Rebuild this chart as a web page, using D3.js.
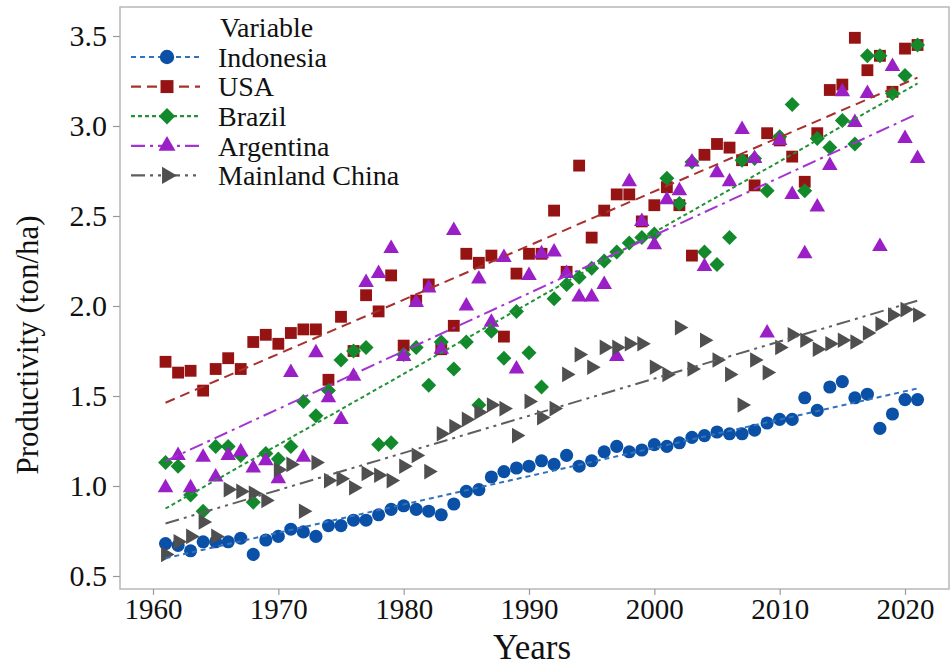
<!DOCTYPE html>
<html>
<head>
<meta charset="utf-8">
<script src="https://cdn.jsdelivr.net/npm/d3@7"></script>
<style>
  body { margin: 0; background: #fff; }
</style>
</head>
<body>
<div id="chart"></div>
<script>

// years 1961..2021
var years = d3.range(1961, 2022);

var indonesia = [0.68, 0.67, 0.64, 0.69, 0.69, 0.69, 0.71, 0.62, 0.70, 0.72,
  0.76, 0.745, 0.72, 0.78, 0.78, 0.81, 0.81, 0.84, 0.87, 0.89,
  0.87, 0.86, 0.84, 0.90, 0.97, 0.98, 1.05, 1.08, 1.10, 1.11,
  1.14, 1.12, 1.17, 1.11, 1.14, 1.19, 1.22, 1.19, 1.20, 1.23,
  1.22, 1.24, 1.27, 1.28, 1.30, 1.29, 1.29, 1.31, 1.35, 1.37,
  1.37, 1.49, 1.42, 1.55, 1.58, 1.49, 1.51, 1.32, 1.40, 1.48, 1.48];

var usa = [1.69, 1.63, 1.64, 1.53, 1.65, 1.71, 1.65, 1.80, 1.84, 1.79,
  1.85, 1.87, 1.87, 1.59, 1.94, 1.75, 2.06, 1.97, 2.17, 1.78,
  2.03, 2.12, 1.76, 1.89, 2.29, 2.24, 2.28, 1.83, 2.18, 2.29,
  2.29, 2.53, 2.19, 2.78, 2.38, 2.53, 2.62, 2.62, 2.47, 2.56,
  2.66, 2.56, 2.28, 2.84, 2.90, 2.88, 2.81, 2.67, 2.96, 2.92,
  2.83, 2.69, 2.96, 3.20, 3.23, 3.49, 3.31, 3.39, 3.19, 3.43, 3.45];

var brazil = [1.13, 1.11, 0.95, 0.86, 1.22, 1.22, 1.17, 0.91, 1.18, 1.15,
  1.22, 1.47, 1.39, 1.53, 1.70, 1.75, 1.77, 1.23, 1.24, 1.73,
  1.77, 1.56, 1.80, 1.65, 1.80, 1.45, 1.86, 1.71, 1.97, 1.74,
  1.55, 2.04, 2.12, 2.16, 2.21, 2.25, 2.30, 2.35, 2.38, 2.40,
  2.71, 2.57, 2.80, 2.30, 2.23, 2.38, 2.81, 2.82, 2.64, 2.94,
  3.12, 2.64, 2.93, 2.88, 3.03, 2.90, 3.39, 3.39, 3.18, 3.28, 3.45];

var argentina = [0.99, 1.17, 0.99, 1.16, 1.05, 1.17, 1.19, 1.10, 1.14, 1.04,
  1.63, 1.16, 1.74, 1.49, 1.37, 1.61, 2.13, 2.18, 2.32, 1.72,
  2.02, 2.10, 1.76, 2.42, 2.00, 2.15, 1.91, 2.27, 1.65, 2.17,
  2.29, 2.30, 2.18, 2.05, 2.05, 2.12, 1.72, 2.69, 2.47, 2.34,
  2.59, 2.64, 2.80, 2.22, 2.74, 2.69, 2.98, 2.82, 1.85, 2.92,
  2.62, 2.29, 2.55, 2.78, 3.19, 3.02, 3.18, 2.33, 3.33, 2.93, 2.82];

var china = [0.62, 0.69, 0.72, 0.80, 0.72, 0.98, 0.97, 0.96, 0.92, 1.09,
  1.12, 0.86, 1.13, 1.03, 1.04, 0.99, 1.07, 1.06, 1.03, 1.11,
  1.17, 1.08, 1.29, 1.33, 1.37, 1.41, 1.45, 1.43, 1.28, 1.47,
  1.38, 1.43, 1.62, 1.73, 1.66, 1.77, 1.77, 1.79, 1.79, 1.66,
  1.62, 1.88, 1.65, 1.81, 1.70, 1.62, 1.45, 1.70, 1.63, 1.77,
  1.84, 1.81, 1.76, 1.79, 1.81, 1.80, 1.85, 1.90, 1.95, 1.98, 1.95];

var seriesNames = ["Indonesia", "USA", "Brazil", "Argentina", "Mainland China"];
var xTicks = [1960, 1970, 1980, 1990, 2000, 2010, 2020];
var yTicks = [0.5, 1.0, 1.5, 2.0, 2.5, 3.0, 3.5];

var styles = [
  { values: indonesia, marker: "#0a50a6", line: "#3272bd", shape: "circle", dash: "5,4" },
  { values: usa, marker: "#961313", line: "#a8302e", shape: "square", dash: "10,6" },
  { values: brazil, marker: "#128a2c", line: "#229236", shape: "diamond", dash: "4,3" },
  { values: argentina, marker: "#9a1fc6", line: "#a235cf", shape: "triangle", dash: "14,5,3,5" },
  { values: china, marker: "#4f4f4f", line: "#5e5e5e", shape: "right", dash: "14,5,3,5,3,5" }
];

var serif = "'Liberation Serif', 'Times New Roman', Tinos, 'DejaVu Serif', serif";

var width = 950, height = 667;
var frame = { left: 120, right: 949, top: 7, bottom: 589 };

var svg = d3.select("#chart").append("svg")
  .attr("width", width)
  .attr("height", height);

var xScale = d3.scaleLinear().domain([1960, 2020]).range([153, 905]);
var yScale = d3.scaleLinear().domain([0.5, 3.5]).range([576, 36]);

function symbolPath(shape, big) {
  var k = big ? 1.2 : 1;
  if (shape == "circle") return d3.symbol(d3.symbolCircle, 135 * k)();
  if (shape == "square") return d3.symbol(d3.symbolSquare, 140 * k)();
  if (shape == "diamond") return d3.symbol(d3.symbolSquare, 112 * k)();
  return d3.symbol(d3.symbolTriangle, 105 * k)();
}
function symbolRotate(shape) {
  if (shape == "diamond") return 45;
  if (shape == "right") return 90;
  return 0;
}

// frame
svg.append("rect")
  .attr("x", frame.left).attr("y", frame.top)
  .attr("width", frame.right - frame.left)
  .attr("height", frame.bottom - frame.top)
  .attr("fill", "none").attr("stroke", "#b8b8b8").attr("stroke-width", 1.5);

// axes
var yAxis = d3.axisLeft(yScale).tickValues(yTicks).tickFormat(d3.format(".1f")).tickSize(7).tickPadding(6);
var xAxis = d3.axisBottom(xScale).tickValues(xTicks).tickFormat(d3.format("d")).tickSize(6).tickPadding(3);

var gy = svg.append("g").attr("transform", "translate(" + frame.left + ",0)").call(yAxis);
var gx = svg.append("g").attr("transform", "translate(0," + frame.bottom + ")").call(xAxis);
gy.attr("font-family", serif).attr("font-size", 30);
gx.attr("font-family", serif).attr("font-size", 29);
[gx, gy].forEach(function (g) {
  g.select(".domain").remove();
  g.selectAll(".tick line").attr("stroke", "#9a9a9a").attr("stroke-width", 1.2);
  g.selectAll(".tick text").attr("fill", "#111");
});

// points
styles.forEach(function (s) {
  svg.append("g").selectAll("path")
    .data(years.map(function (y, i) { return [y, s.values[i]]; }))
    .enter().append("path")
    .attr("d", symbolPath(s.shape))
    .attr("fill", s.marker)
    .attr("transform", function (d) {
      return "translate(" + xScale(d[0]) + "," + yScale(d[1]) + ") rotate(" + symbolRotate(s.shape) + ")";
    });
});

// linear trend lines
function fit(values) {
  var mx = d3.mean(years), my = d3.mean(values);
  var sxy = d3.sum(years, function (y, i) { return (y - mx) * (values[i] - my); });
  var sxx = d3.sum(years, function (y) { return (y - mx) * (y - mx); });
  var b = sxy / sxx;
  return function (x) { return my + b * (x - mx); };
}
var line = d3.line().x(function (d) { return xScale(d[0]); }).y(function (d) { return yScale(d[1]); });

styles.forEach(function (s) {
  var f = fit(s.values);
  var ends = [years[0], years[years.length - 1]].map(function (y) { return [y, f(y)]; });
  svg.append("path")
    .attr("d", line(ends))
    .attr("fill", "none")
    .attr("stroke", s.line)
    .attr("stroke-width", 2)
    .attr("stroke-dasharray", s.dash);
});

// legend
var legend = svg.append("g").attr("font-family", serif).attr("font-size", 28).attr("fill", "#111");
legend.append("text").attr("x", 220).attr("y", 27).attr("dy", "0.35em").text("Variable");
seriesNames.forEach(function (name, i) {
  var s = styles[i];
  var yy = 57 + i * 29.6;
  legend.append("line").attr("x1", 131).attr("x2", 200).attr("y1", yy).attr("y2", yy)
    .attr("stroke", s.line).attr("stroke-width", 2.2).attr("stroke-dasharray", s.dash);
  legend.append("path").attr("d", symbolPath(s.shape, true)).attr("fill", s.marker)
    .attr("transform", "translate(167," + yy + ") rotate(" + symbolRotate(s.shape) + ")");
  legend.append("text").attr("x", 218).attr("y", yy).attr("dy", "0.35em").text(name);
});

// axis titles
svg.append("text").attr("transform", "translate(38,345) rotate(-90)")
  .attr("font-family", serif).attr("font-size", 31).attr("fill", "#111")
  .attr("text-anchor", "middle").text("Productivity (ton/ha)");
svg.append("text").attr("x", 532).attr("y", 659)
  .attr("font-family", serif).attr("font-size", 35).attr("fill", "#111")
  .attr("text-anchor", "middle").text("Years");

</script>
</body>
</html>
